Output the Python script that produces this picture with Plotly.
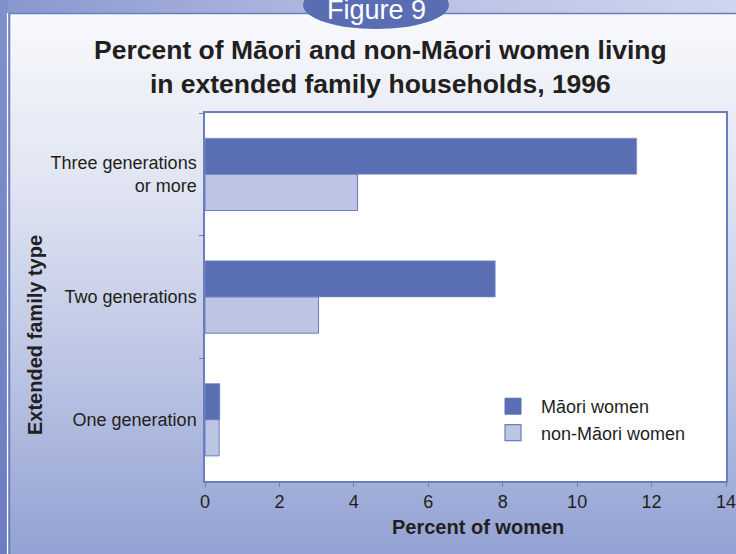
import base64
import plotly.graph_objects as go

# ---- data ----
categories = ["Three generations<br>or more", "Two generations", "One generation"]
maori_values = [11.6, 7.8, 0.4]
non_maori_values = [4.1, 3.05, 0.38]
series_names = ["Māori women", "non-Māori women"]
x_ticks = [0, 2, 4, 6, 8, 10, 12, 14]

DARK = "#5a6eb3"
LIGHT = "#bcc6e3"
EDGE = "#6a7dc0"
TEXT = "#231f20"
FONT = "Liberation Sans, Arial, sans-serif"

W, H = 736, 554
ML, MR, MT, MB = 205, 10, 113, 73
PW, PH = W - ML - MR, H - MT - MB


def px(x):
    return (x - ML) / PW


def py(y):
    return (H - MB - y) / PH


svg = f'''<svg xmlns="http://www.w3.org/2000/svg" width="{W}" height="{H}" viewBox="0 0 {W} {H}">
<defs>
<linearGradient id="g" x1="0" y1="0" x2="0" y2="1">
<stop offset="0" stop-color="#f8f9fc"/>
<stop offset="0.3" stop-color="#e2e6f3"/>
<stop offset="0.65" stop-color="#bcc5e4"/>
<stop offset="1" stop-color="#93a2d3"/>
</linearGradient>
<linearGradient id="t" x1="0" y1="0" x2="1" y2="0">
<stop offset="0" stop-color="#8797cf"/>
<stop offset="0.5" stop-color="#b4bee2"/>
<stop offset="1" stop-color="#cfd5ee"/>
</linearGradient>
<linearGradient id="l" x1="0" y1="0" x2="0" y2="1">
<stop offset="0" stop-color="#8090cc"/>
<stop offset="1" stop-color="#6c7cc0"/>
</linearGradient>
</defs>
<rect width="{W}" height="{H}" fill="url(#t)"/>
<rect x="0" y="0" width="8" height="{H}" fill="url(#l)"/>
<rect x="9" y="13" width="{W-9}" height="{H-13}" fill="url(#g)"/>
<line x1="7.5" y1="13" x2="7.5" y2="{H}" stroke="#ffffff" stroke-width="1.2"/>
<line x1="9" y1="13.5" x2="{W}" y2="13.5" stroke="#6a7cc2" stroke-width="1.5"/>
<line x1="9.5" y1="13" x2="9.5" y2="{H}" stroke="#6a7cc2" stroke-width="1.5"/>
<rect x="{ML}" y="{MT}" width="{PW}" height="{PH}" fill="#ffffff"/>
<ellipse cx="376" cy="5" rx="73" ry="24" fill="#5a6db3"/>
</svg>'''
svg_uri = "data:image/svg+xml;base64," + base64.b64encode(svg.encode("utf-8")).decode("ascii")

fig = go.Figure()
fig.add_trace(go.Bar(
    y=categories, x=maori_values, name=series_names[0], orientation="h",
    marker=dict(color=DARK, line=dict(color="#8797cf", width=0.6)),
    showlegend=False, legendgroup="m",
))
fig.add_trace(go.Bar(
    y=categories, x=non_maori_values, name=series_names[1], orientation="h",
    marker=dict(color=LIGHT, line=dict(color=EDGE, width=1)),
    showlegend=False, legendgroup="n",
))
# legend entries with larger square keys
fig.add_trace(go.Scatter(
    x=[None], y=[None], mode="markers", name=series_names[0], legendgroup="m",
    marker=dict(symbol="square", size=16, color=DARK, line=dict(color=DARK, width=1)),
))
fig.add_trace(go.Scatter(
    x=[None], y=[None], mode="markers", name=series_names[1], legendgroup="n",
    marker=dict(symbol="square", size=16, color=LIGHT, line=dict(color=EDGE, width=1.2)),
))

fig.update_layout(
    width=W, height=H,
    margin=dict(l=ML, r=MR, t=MT, b=MB, pad=0, autoexpand=False),
    paper_bgcolor="#c5cce8",
    plot_bgcolor="rgba(0,0,0,0)",
    barmode="group", bargap=0.41, bargroupgap=0,
    font=dict(family=FONT, color=TEXT, size=18),
    showlegend=True,
    legend=dict(
        x=px(485), y=py(388), xanchor="left", yanchor="top",
        bgcolor="rgba(0,0,0,0)", font=dict(size=18, color=TEXT),
        traceorder="normal", itemwidth=46,
    ),
    xaxis=dict(
        range=[0, 14], tickvals=x_ticks, ticktext=[str(v) for v in x_ticks],
        showgrid=False, zeroline=False, automargin=False, ticklabeloverflow="allow",
        showline=True, linecolor=EDGE, linewidth=1.5, mirror=True,
        ticks="outside", ticklen=4, tickcolor=EDGE, tickwidth=1.2,
        tickfont=dict(size=18, color=TEXT),
    ),
    yaxis=dict(
        categoryorder="array", categoryarray=categories, autorange="reversed",
        showgrid=False, zeroline=False, automargin=False,
        showline=True, linecolor=EDGE, linewidth=1.5, mirror=True,
        ticks="outside", tickson="boundaries", ticklen=4, tickcolor=EDGE, tickwidth=1.2,
        tickfont=dict(size=18, color=TEXT), ticklabelstandoff=3,
    ),
    images=[dict(
        source=svg_uri, xref="paper", yref="paper",
        x=px(0), y=py(0), sizex=W / PW, sizey=H / PH,
        xanchor="left", yanchor="top", sizing="stretch", layer="below",
    )],
    annotations=[
        dict(text="Figure 9", xref="paper", yref="paper", x=px(376), y=py(10),
             showarrow=False, font=dict(size=27, color="#ffffff", family=FONT),
             xanchor="center", yanchor="middle"),
        dict(text="<b>Percent of Māori and non-Māori women living<br>in extended family households, 1996</b>",
             xref="paper", yref="paper", x=px(380), y=py(67), showarrow=False,
             font=dict(size=26.5, color=TEXT, family=FONT), xanchor="center", yanchor="middle"),
        dict(text="<b>Extended family type</b>", xref="paper", yref="paper",
             x=px(35), y=py(335), textangle=-90, showarrow=False,
             font=dict(size=20, color=TEXT, family=FONT), xanchor="center", yanchor="middle"),
        dict(text="<b>Percent of women</b>", xref="paper", yref="paper",
             x=px(478), y=py(527), showarrow=False,
             font=dict(size=20, color=TEXT, family=FONT), xanchor="center", yanchor="middle"),
    ],
)

fig.write_html(
    "out.html",
    config={"displayModeBar": False},
    post_script="document.body.style.margin='0';document.body.style.overflow='hidden';",
)
